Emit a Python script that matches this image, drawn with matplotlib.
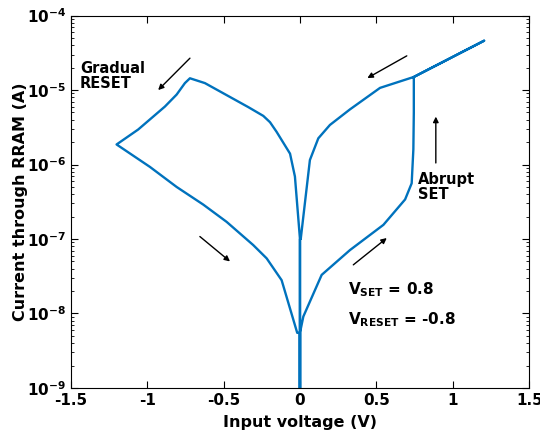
import numpy as np
import matplotlib
matplotlib.use('Agg')
from matplotlib import pyplot as plt
from matplotlib import ticker

plt.rcParams['font.family'] = 'DejaVu Sans'
plt.rcParams['font.weight'] = 'bold'
plt.rcParams['mathtext.default'] = 'bf'

# sweep 0 -> 1.2 -> 0 -> -1.2 -> 0, current in A (1e-10 = ~zero current at V=0)
set_v = [0.0, 0.0, 0.022, 0.142, 0.327, 0.546, 0.688, 0.731, 0.742, 0.745, 0.745]
set_i = [1e-10, 5.5e-9, 9.1e-9, 3.3e-8, 7.1e-8, 1.55e-7, 3.4e-7, 5.6e-7, 1.6e-6, 5e-6, 1.5e-5]

lrs_pos_v = [0.745, 1.205, 0.745, 0.524, 0.327, 0.196, 0.12, 0.065, 0.005, 0.0, 0.0]
lrs_pos_i = [1.5e-5, 4.6e-5, 1.5e-5, 1.07e-5, 5.5e-6, 3.4e-6, 2.25e-6, 1.15e-6, 1.0e-7, 1.0e-7, 1e-10]

lrs_neg_v = [0.0, 0.0, -0.033, -0.065, -0.153, -0.196, -0.24, -0.338, -0.622, -0.72]
lrs_neg_i = [1e-10, 1.0e-7, 6.9e-7, 1.4e-6, 2.75e-6, 3.7e-6, 4.5e-6, 5.9e-6, 1.24e-5, 1.44e-5]

reset_v = [-0.72, -0.753, -0.807, -0.884, -1.059, -1.2]
reset_i = [1.44e-5, 1.24e-5, 8.7e-6, 6.0e-6, 2.95e-6, 1.86e-6]

hrs_neg_v = [-1.2, -0.982, -0.807, -0.633, -0.48, -0.306, -0.218, -0.12, -0.018, 0.0, 0.0]
hrs_neg_i = [1.86e-6, 9.3e-7, 5.0e-7, 2.9e-7, 1.7e-7, 8.3e-8, 5.5e-8, 2.8e-8, 5.5e-9, 5.5e-9, 1e-10]

volt = set_v + lrs_pos_v + lrs_neg_v + reset_v + hrs_neg_v
curr = set_i + lrs_pos_i + lrs_neg_i + reset_i + hrs_neg_i

# arrows: (start, end) in data coords
arrows = [((-0.72, 2.68e-5), (-0.928, 1.0e-5)),
          ((0.699, 2.88e-5), (0.441, 1.45e-5)),
          ((0.889, 1.05e-6), (0.889, 4.4e-6)),
          ((-0.655, 1.08e-7), (-0.458, 5.0e-8)),
          ((0.349, 4.5e-8), (0.568, 1.03e-7))]

fig = plt.figure(figsize=(5.4, 4.33), dpi=100)
ax = fig.add_axes([0.131, 0.104, 0.849, 0.86])

ax.semilogy(volt, curr, color='#0072BD', linewidth=1.7)

for (x0, y0), (x1, y1) in arrows:
    ax.annotate('', xy=(x1, y1), xytext=(x0, y0),
                arrowprops=dict(arrowstyle='-|>', color='black', lw=1.0,
                                mutation_scale=8, shrinkA=0, shrinkB=0))

ax.text(-1.44, 1.55e-5, 'Gradual\nRESET', fontsize=10.5, fontweight='bold',
        va='center', ha='left', linespacing=1.05)
ax.text(0.773, 5e-7, 'Abrupt\nSET', fontsize=10.5, fontweight='bold',
        va='center', ha='left', linespacing=1.05)
ax.text(0.314, 2.1e-8, r'$V_{SET}$ = 0.8', fontsize=11, va='center', ha='left')
ax.text(0.314, 8.3e-9, r'$V_{RESET}$ = -0.8', fontsize=11, va='center', ha='left')

ax.set_xlim(-1.5, 1.5)
ax.set_ylim(1e-9, 1e-4)
ax.set_xticks(np.arange(-1.5, 1.51, 0.5))
ax.set_xticklabels(['-1.5', '-1', '-0.5', '0', '0.5', '1', '1.5'])
ax.yaxis.set_major_locator(ticker.LogLocator(base=10, numticks=10))
ax.yaxis.set_minor_locator(ticker.LogLocator(base=10, subs=np.arange(2, 10), numticks=10))
ax.tick_params(which='both', direction='in', top=True, right=True, labelsize=11)
ax.tick_params(which='major', length=5)
ax.tick_params(which='minor', length=2.5)
for lab in ax.get_xticklabels() + ax.get_yticklabels():
    lab.set_fontweight('bold')

ax.set_xlabel('Input voltage (V)', fontsize=11.5, fontweight='bold', labelpad=5)
ax.set_ylabel('Current through RRAM (A)', fontsize=11.5, fontweight='bold')
ax.yaxis.set_label_coords(-0.094, 0.5)

plt.savefig('out.png', dpi=100)
